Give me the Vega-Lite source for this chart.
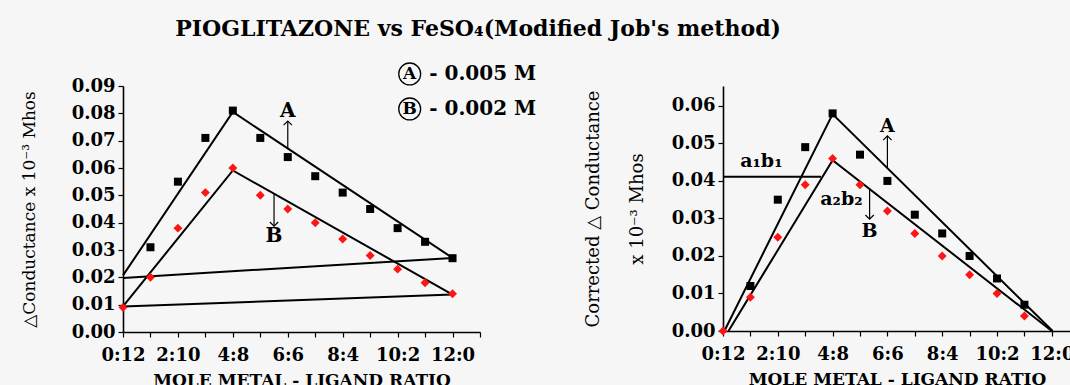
{
  "$schema": "https://vega.github.io/schema/vega-lite/v6.json",
  "background": "#f6f6f6",
  "padding": {"left": 20, "top": 18, "right": 0, "bottom": 0},
  "spacing": 47,
  "title": {
    "text": "PIOGLITAZONE  vs FeSO₄(Modified Job's method)",
    "font": "DejaVu Serif",
    "fontSize": 22,
    "fontWeight": "bold",
    "color": "black",
    "anchor": "start",
    "dx": 155,
    "offset": 19
  },
  "config": {
    "view": {"stroke": null},
    "axis": {
      "domainColor": "black",
      "domainWidth": 1.6,
      "tickColor": "black",
      "tickWidth": 1.2,
      "tickSize": 5,
      "grid": false,
      "labelFont": "DejaVu Serif",
      "labelFontWeight": "bold",
      "labelFontSize": 18,
      "labelColor": "black",
      "labelOverlap": false,
      "labelFlush": false,
      "titleFont": "DejaVu Serif",
      "titleColor": "black"
    },
    "text": {"font": "DejaVu Serif", "fontWeight": "bold", "color": "black"}
  },
  "datasets": {
    "leftPts": [
      {"x": 1, "y": 0.031, "s": "A"}, {"x": 2, "y": 0.055, "s": "A"}, {"x": 3, "y": 0.071, "s": "A"},
      {"x": 4, "y": 0.081, "s": "A"}, {"x": 5, "y": 0.071, "s": "A"}, {"x": 6, "y": 0.064, "s": "A"},
      {"x": 7, "y": 0.057, "s": "A"}, {"x": 8, "y": 0.051, "s": "A"}, {"x": 9, "y": 0.045, "s": "A"},
      {"x": 10, "y": 0.038, "s": "A"}, {"x": 11, "y": 0.033, "s": "A"}, {"x": 12, "y": 0.027, "s": "A"},
      {"x": 0, "y": 0.009, "s": "B"}, {"x": 1, "y": 0.020, "s": "B"}, {"x": 2, "y": 0.038, "s": "B"},
      {"x": 3, "y": 0.051, "s": "B"}, {"x": 4, "y": 0.060, "s": "B"}, {"x": 5, "y": 0.050, "s": "B"},
      {"x": 6, "y": 0.045, "s": "B"}, {"x": 7, "y": 0.040, "s": "B"}, {"x": 8, "y": 0.034, "s": "B"},
      {"x": 9, "y": 0.028, "s": "B"}, {"x": 10, "y": 0.023, "s": "B"}, {"x": 11, "y": 0.018, "s": "B"},
      {"x": 12, "y": 0.014, "s": "B"}
    ],
    "rightPts": [
      {"x": 1, "y": 0.012, "s": "A"}, {"x": 2, "y": 0.035, "s": "A"}, {"x": 3, "y": 0.049, "s": "A"},
      {"x": 4, "y": 0.058, "s": "A"}, {"x": 5, "y": 0.047, "s": "A"}, {"x": 6, "y": 0.040, "s": "A"},
      {"x": 7, "y": 0.031, "s": "A"}, {"x": 8, "y": 0.026, "s": "A"}, {"x": 9, "y": 0.020, "s": "A"},
      {"x": 10, "y": 0.014, "s": "A"}, {"x": 11, "y": 0.007, "s": "A"},
      {"x": 0, "y": 0.000, "s": "B"}, {"x": 1, "y": 0.009, "s": "B"}, {"x": 2, "y": 0.025, "s": "B"},
      {"x": 3, "y": 0.039, "s": "B"}, {"x": 4, "y": 0.046, "s": "B"}, {"x": 5, "y": 0.039, "s": "B"},
      {"x": 6, "y": 0.032, "s": "B"}, {"x": 7, "y": 0.026, "s": "B"}, {"x": 8, "y": 0.020, "s": "B"},
      {"x": 9, "y": 0.015, "s": "B"}, {"x": 10, "y": 0.010, "s": "B"}, {"x": 11, "y": 0.004, "s": "B"}
    ],
    "leftLines": [
      {"x": 0, "y": 0.0207, "seg": "A"}, {"x": 4, "y": 0.0805, "seg": "A"}, {"x": 12, "y": 0.0271, "seg": "A"},
      {"x": 0, "y": 0.0198, "seg": "A0"}, {"x": 12, "y": 0.0271, "seg": "A0"},
      {"x": 0, "y": 0.0094, "seg": "B"}, {"x": 4, "y": 0.0591, "seg": "B"}, {"x": 12, "y": 0.0137, "seg": "B"},
      {"x": 0, "y": 0.0093, "seg": "B0"}, {"x": 12, "y": 0.0137, "seg": "B0"}
    ],
    "rightLines": [
      {"x": 0.05, "y": 0, "seg": "A"}, {"x": 4, "y": 0.0578, "seg": "A"}, {"x": 12.03, "y": 0, "seg": "A"},
      {"x": 0.2, "y": 0, "seg": "B"}, {"x": 4, "y": 0.0455, "seg": "B"}, {"x": 12, "y": 0, "seg": "B"},
      {"x": 0, "y": 0.0411, "seg": "H"}, {"x": 3.58, "y": 0.0411, "seg": "H"}
    ],
    "leftArrows": [
      {"x": 6, "y": 0.0669, "y2": 0.0772, "dir": "up"},
      {"x": 5.5, "y": 0.0504, "y2": 0.0387, "dir": "down"}
    ],
    "rightArrows": [
      {"x": 6, "y": 0.0434, "y2": 0.052, "dir": "up"},
      {"x": 5.35, "y": 0.0378, "y2": 0.0298, "dir": "down"}
    ],
    "leftLabels": [
      {"x": 6, "y": 0.0808, "t": "A"},
      {"x": 5.5, "y": 0.035, "t": "B"}
    ],
    "rightLabels": [
      {"x": 6, "y": 0.0547, "t": "A"},
      {"x": 5.35, "y": 0.0267, "t": "B"},
      {"x": 1.4, "y": 0.0453, "t": "a₁b₁"},
      {"x": 4.32, "y": 0.0351, "t": "a₂b₂"}
    ],
    "legend": [
      {"x": 10.44, "y": 0.0944, "letter": "A", "desc": "- 0.005 M", "tx": 11.15},
      {"x": 10.44, "y": 0.0816, "letter": "B", "desc": "- 0.002 M", "tx": 11.15}
    ]
  },
  "hconcat": [
    {
      "width": 357,
      "height": 246,
      "layer": [
        {
          "data": {"name": "leftLines"},
          "mark": {"type": "line", "color": "black", "strokeWidth": 2},
          "encoding": {
            "x": {
              "field": "x", "type": "quantitative",
              "scale": {"domain": [0, 13], "nice": false, "zero": false},
              "axis": {
                "values": [0, 1, 2, 3, 4, 5, 6, 7, 8, 9, 10, 11, 12, 13],
                "tickCount": 30,
                "labelExpr": "datum.value % 2 == 0 && datum.value <= 12 ? datum.value + ':' + (12 - datum.value) : ''",
                "labelPadding": 9,
                "labelOverlap": false,
                "labelFlush": false,
                "title": "MOLE METAL - LIGAND RATIO",
                "titleFontSize": 17,
                "titleFontWeight": "bold",
                "titlePadding": 8
              }
            },
            "y": {
              "field": "y", "type": "quantitative",
              "scale": {"domain": [0, 0.09], "nice": false, "zero": false},
              "axis": {
                "values": [0, 0.01, 0.02, 0.03, 0.04, 0.05, 0.06, 0.07, 0.08, 0.09],
                "tickCount": 30,
                "format": ".2f",
                "labelPadding": 3,
                "labelOverlap": false,
                "title": "△Conductance x 10⁻³ Mhos",
                "titleFontSize": 17,
                "titleFontWeight": "normal",
                "titlePadding": 33
              }
            },
            "detail": {"field": "seg"}
          }
        },
        {
          "data": {"name": "leftPts"},
          "mark": {"type": "point", "filled": true, "opacity": 1},
          "encoding": {
            "x": {"field": "x", "type": "quantitative"},
            "y": {"field": "y", "type": "quantitative"},
            "color": {"field": "s", "type": "nominal", "scale": {"domain": ["A", "B"], "range": ["black", "#ff1414"]}, "legend": null},
            "shape": {"field": "s", "type": "nominal", "scale": {"domain": ["A", "B"], "range": ["square", "diamond"]}, "legend": null},
            "size": {"field": "s", "type": "nominal", "scale": {"domain": ["A", "B"], "range": [64, 80]}, "legend": null}
          }
        },
        {
          "data": {"name": "leftArrows"},
          "mark": {"type": "rule", "color": "black", "strokeWidth": 1.2},
          "encoding": {
            "x": {"field": "x", "type": "quantitative"},
            "y": {"field": "y", "type": "quantitative"},
            "y2": {"field": "y2"}
          }
        },
        {
          "data": {"name": "leftArrows"},
          "transform": [{"filter": "datum.dir == 'up'"}],
          "mark": {"type": "point", "shape": "M-1,1L0,0L1,1", "filled": false, "color": "black", "strokeWidth": 1.2, "size": 70, "opacity": 1},
          "encoding": {
            "x": {"field": "x", "type": "quantitative"},
            "y": {"field": "y2", "type": "quantitative"}
          }
        },
        {
          "data": {"name": "leftArrows"},
          "transform": [{"filter": "datum.dir == 'down'"}],
          "mark": {"type": "point", "shape": "M-1,-1L0,0L1,-1", "filled": false, "color": "black", "strokeWidth": 1.2, "size": 70, "opacity": 1},
          "encoding": {
            "x": {"field": "x", "type": "quantitative"},
            "y": {"field": "y2", "type": "quantitative"}
          }
        },
        {
          "data": {"name": "leftLabels"},
          "mark": {"type": "text", "fontSize": 20, "align": "center", "baseline": "middle"},
          "encoding": {
            "x": {"field": "x", "type": "quantitative"},
            "y": {"field": "y", "type": "quantitative"},
            "text": {"field": "t"}
          }
        },
        {
          "data": {"name": "legend"},
          "mark": {"type": "point", "shape": "circle", "filled": false, "color": "black", "strokeWidth": 1.3, "size": 480, "opacity": 1},
          "encoding": {
            "x": {"field": "x", "type": "quantitative"},
            "y": {"field": "y", "type": "quantitative"}
          }
        },
        {
          "data": {"name": "legend"},
          "mark": {"type": "text", "fontSize": 17, "align": "center", "baseline": "middle"},
          "encoding": {
            "x": {"field": "x", "type": "quantitative"},
            "y": {"field": "y", "type": "quantitative"},
            "text": {"field": "letter"}
          }
        },
        {
          "data": {"name": "legend"},
          "mark": {"type": "text", "fontSize": 20, "align": "left", "baseline": "middle"},
          "encoding": {
            "x": {"field": "tx", "type": "quantitative"},
            "y": {"field": "y", "type": "quantitative"},
            "text": {"field": "desc"}
          }
        }
      ]
    },
    {
      "width": 348,
      "height": 245,
      "layer": [
        {
          "data": {"name": "rightLines"},
          "mark": {"type": "line", "color": "black", "strokeWidth": 2},
          "encoding": {
            "x": {
              "field": "x", "type": "quantitative",
              "scale": {"domain": [0, 12.7], "nice": false, "zero": false},
              "axis": {
                "values": [0, 1, 2, 3, 4, 5, 6, 7, 8, 9, 10, 11, 12],
                "tickCount": 30,
                "labelExpr": "datum.value % 2 == 0 ? datum.value + ':' + (12 - datum.value) : ''",
                "labelPadding": 9,
                "labelOverlap": false,
                "labelFlush": false,
                "title": "MOLE METAL - LIGAND RATIO",
                "titleFontSize": 17,
                "titleFontWeight": "bold",
                "titlePadding": 8
              }
            },
            "y": {
              "field": "y", "type": "quantitative",
              "scale": {"domain": [0, 0.0653], "nice": false, "zero": false},
              "axis": {
                "values": [0, 0.01, 0.02, 0.03, 0.04, 0.05, 0.06],
                "tickCount": 30,
                "format": ".2f",
                "labelPadding": 3,
                "labelOverlap": false,
                "title": ["Corrected △ Conductance", "x 10⁻³ Mhos"],
                "titleFontSize": 18,
                "titleFontWeight": "normal",
                "titleLineHeight": 44,
                "titlePadding": 25
              }
            },
            "detail": {"field": "seg"}
          }
        },
        {
          "data": {"name": "rightPts"},
          "mark": {"type": "point", "filled": true, "opacity": 1},
          "encoding": {
            "x": {"field": "x", "type": "quantitative"},
            "y": {"field": "y", "type": "quantitative"},
            "color": {"field": "s", "type": "nominal", "scale": {"domain": ["A", "B"], "range": ["black", "#ff1414"]}, "legend": null},
            "shape": {"field": "s", "type": "nominal", "scale": {"domain": ["A", "B"], "range": ["square", "diamond"]}, "legend": null},
            "size": {"field": "s", "type": "nominal", "scale": {"domain": ["A", "B"], "range": [64, 80]}, "legend": null}
          }
        },
        {
          "data": {"name": "rightArrows"},
          "mark": {"type": "rule", "color": "black", "strokeWidth": 1.2},
          "encoding": {
            "x": {"field": "x", "type": "quantitative"},
            "y": {"field": "y", "type": "quantitative"},
            "y2": {"field": "y2"}
          }
        },
        {
          "data": {"name": "rightArrows"},
          "transform": [{"filter": "datum.dir == 'up'"}],
          "mark": {"type": "point", "shape": "M-1,1L0,0L1,1", "filled": false, "color": "black", "strokeWidth": 1.2, "size": 70, "opacity": 1},
          "encoding": {
            "x": {"field": "x", "type": "quantitative"},
            "y": {"field": "y2", "type": "quantitative"}
          }
        },
        {
          "data": {"name": "rightArrows"},
          "transform": [{"filter": "datum.dir == 'down'"}],
          "mark": {"type": "point", "shape": "M-1,-1L0,0L1,-1", "filled": false, "color": "black", "strokeWidth": 1.2, "size": 70, "opacity": 1},
          "encoding": {
            "x": {"field": "x", "type": "quantitative"},
            "y": {"field": "y2", "type": "quantitative"}
          }
        },
        {
          "data": {"name": "rightLabels"},
          "mark": {"type": "text", "fontSize": 19, "align": "center", "baseline": "middle"},
          "encoding": {
            "x": {"field": "x", "type": "quantitative"},
            "y": {"field": "y", "type": "quantitative"},
            "text": {"field": "t"}
          }
        }
      ]
    }
  ]
}
